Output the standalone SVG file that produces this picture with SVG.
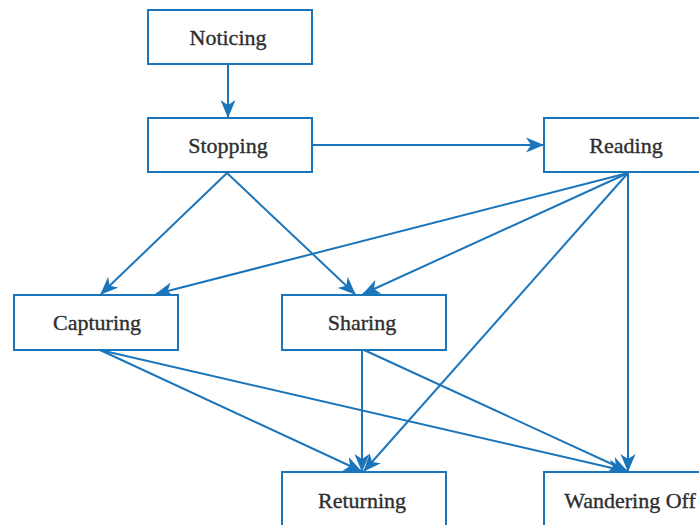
<svg xmlns="http://www.w3.org/2000/svg" width="699" height="525" viewBox="0 0 699 525">
<defs>
<style>
.box{fill:#fff;stroke:#1b75bb;stroke-width:2}
.lbl{font-family:"Liberation Serif","DejaVu Serif",serif;font-size:22px;fill:#2e2e2e;stroke:#2e2e2e;stroke-width:0.35;text-anchor:middle}
.edge{fill:none;stroke:#1b75bb;stroke-width:2;marker-end:url(#ah)}
</style>
<marker id="ah" markerUnits="userSpaceOnUse" markerWidth="18" markerHeight="16" viewBox="0 -8 18 16" refX="17" refY="0" orient="auto">
<path d="M0,-7.5 L18,0 L0,7.5 L5,0 Z" fill="#1b75bb"/>
</marker>
</defs>
<rect width="699" height="525" fill="#fff"/>
<g id="connectors">
<line class="edge" x1="228" y1="64" x2="228" y2="117"/>
<line class="edge" x1="312" y1="145" x2="543" y2="145"/>
<line class="edge" x1="227" y1="173" x2="101" y2="294"/>
<line class="edge" x1="227" y1="173" x2="355" y2="294"/>
<line class="edge" x1="628" y1="173" x2="156" y2="294"/>
<line class="edge" x1="628" y1="173" x2="363" y2="294"/>
<line class="edge" x1="628" y1="173" x2="364" y2="471"/>
<line class="edge" x1="628" y1="173" x2="628" y2="471"/>
<line class="edge" x1="100" y1="350" x2="361" y2="471"/>
<line class="edge" x1="100" y1="350" x2="625" y2="471"/>
<line class="edge" x1="362" y1="350" x2="362" y2="471"/>
<line class="edge" x1="364" y1="350" x2="627" y2="471"/>
</g>
<g id="noticing"><rect class="box" x="148" y="10" width="164" height="54"/><text class="lbl" x="228" y="45">Noticing</text></g>
<g id="stopping"><rect class="box" x="148" y="118" width="164" height="54"/><text class="lbl" x="228" y="153">Stopping</text></g>
<g id="reading"><rect class="box" x="544" y="118" width="164" height="54"/><text class="lbl" x="626" y="153">Reading</text></g>
<g id="capturing"><rect class="box" x="14" y="295" width="164" height="55"/><text class="lbl" x="97" y="330">Capturing</text></g>
<g id="sharing"><rect class="box" x="282" y="295" width="164" height="55"/><text class="lbl" x="362" y="330">Sharing</text></g>
<g id="returning"><rect class="box" x="282" y="472" width="164" height="60"/><text class="lbl" x="362" y="508">Returning</text></g>
<g id="wandering"><rect class="box" x="544" y="472" width="164" height="60"/><text class="lbl" x="630" y="508">Wandering Off</text></g>
</svg>
